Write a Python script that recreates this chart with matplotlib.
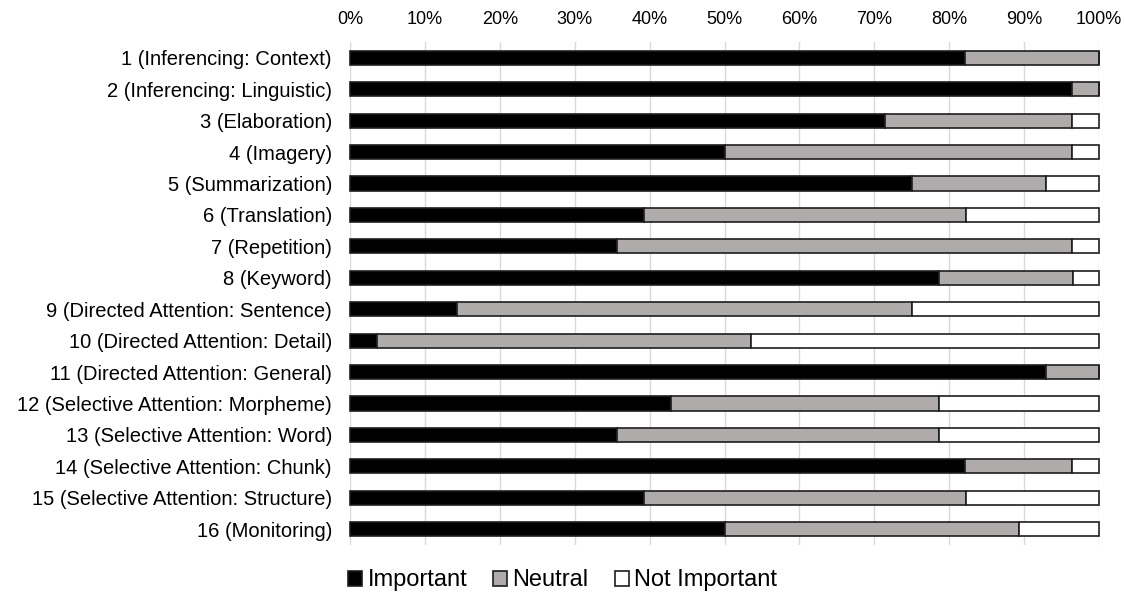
import matplotlib
matplotlib.use("Agg")
import matplotlib.pyplot as plt
from matplotlib.patches import Rectangle
from matplotlib.ticker import FuncFormatter

plt.rcParams['font.family'] = ['Liberation Sans', 'DejaVu Sans']

strategies = [
    "1 (Inferencing: Context)",
    "2 (Inferencing: Linguistic)",
    "3 (Elaboration)",
    "4 (Imagery)",
    "5 (Summarization)",
    "6 (Translation)",
    "7 (Repetition)",
    "8 (Keyword)",
    "9 (Directed Attention: Sentence)",
    "10 (Directed Attention: Detail)",
    "11 (Directed Attention: General)",
    "12 (Selective Attention: Morpheme)",
    "13 (Selective Attention: Word)",
    "14 (Selective Attention: Chunk)",
    "15 (Selective Attention: Structure)",
    "16 (Monitoring)",
]

# Share of respondents (%) per rating
important = [82.1, 96.4, 71.4, 50.0, 75.0, 39.3, 35.7, 78.6, 14.3, 3.6, 92.9, 42.9, 35.7, 82.1, 39.3, 50.0]
neutral = [17.9, 3.6, 25.0, 46.4, 17.9, 42.9, 60.7, 17.9, 60.7, 50.0, 7.1, 35.7, 42.9, 14.3, 42.9, 39.3]
not_important = [0.0, 0.0, 3.6, 3.6, 7.1, 17.8, 3.6, 3.5, 25.0, 46.4, 0.0, 21.4, 21.4, 3.6, 17.8, 10.7]

series_names = ["Important", "Neutral", "Not Important"]
fill_colors = ["#000000", "#afabaa", "#ffffff"]
edge_color = "#1e1e1e"

fig = plt.figure(figsize=(11.25, 5.94), dpi=100)
ax = fig.add_axes([0.3111, 0.0825, 0.6658, 0.8468])

ypos = list(range(len(strategies)))
left = [0.0] * len(strategies)
for vals, color in zip([important, neutral, not_important], fill_colors):
    bars = ax.barh(ypos, vals, left=left, height=0.45, color=color,
                   edgecolor=edge_color, linewidth=1.2, zorder=3)
    for b in bars:
        b.set_clip_on(False)
    left = [a + b for a, b in zip(left, vals)]

ax.set_xlim(0, 100)
ax.set_ylim(len(strategies) - 0.5, -0.5)
ax.set_xticks(range(0, 101, 10))
ax.xaxis.set_major_formatter(FuncFormatter(lambda v, p: f"{int(v)}%"))
ax.xaxis.tick_top()
ax.set_yticks(ypos)
ax.set_yticklabels(strategies)
ax.tick_params(axis='x', length=0, pad=10, labelsize=13, colors='#000000')
ax.tick_params(axis='y', length=0, pad=13, labelsize=14.5, colors='#000000')
ax.grid(axis='x', color='#d9d9d9', linewidth=1.0, zorder=0)
for s in ax.spines.values():
    s.set_visible(False)

handles = [Rectangle((0, 0), 1, 1, facecolor=c, edgecolor=edge_color, linewidth=1.2)
           for c in fill_colors]
fig.legend(handles, series_names, loc='center', bbox_to_anchor=(0.5, 0.023),
           ncol=3, frameon=False, fontsize=17, handlelength=0.6,
           handleheight=0.6, handletextpad=0.22, columnspacing=1.1)

fig.savefig("out.png", dpi=100)
